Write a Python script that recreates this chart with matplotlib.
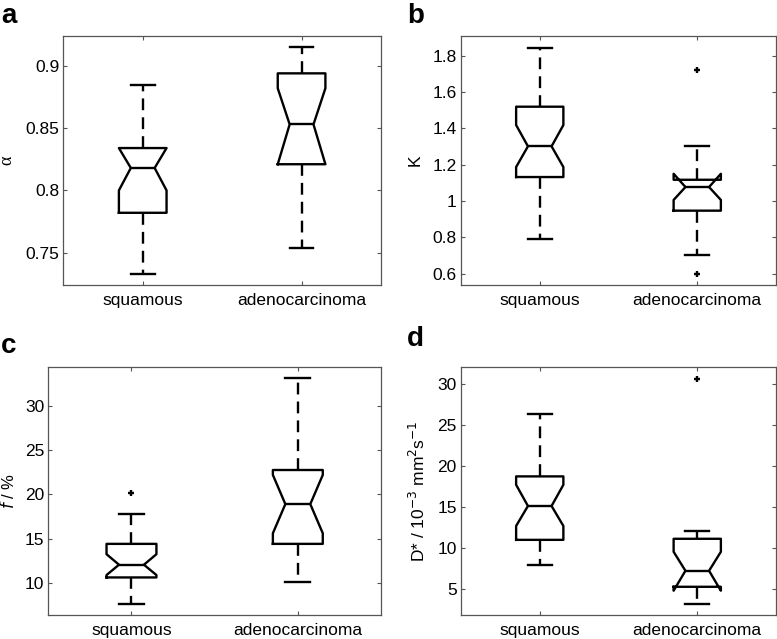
import matplotlib
matplotlib.use("Agg")
import matplotlib.pyplot as plt

plt.rcParams['font.family'] = ['Liberation Sans', 'DejaVu Sans']

groups = ['squamous', 'adenocarcinoma']

# panel a: alpha
alpha_whislo = [0.733, 0.7535]
alpha_q1 = [0.782, 0.821]
alpha_cilo = [0.800, 0.821]
alpha_med = [0.818, 0.853]
alpha_cihi = [0.834, 0.882]
alpha_q3 = [0.834, 0.894]
alpha_whishi = [0.885, 0.915]
alpha_fliers = [[], []]

# panel b: K
K_whislo = [0.791, 0.705]
K_q1 = [1.132, 0.947]
K_cilo = [1.187, 1.006]
K_med = [1.301, 1.077]
K_cihi = [1.418, 1.150]
K_q3 = [1.519, 1.117]
K_whishi = [1.843, 1.305]
K_fliers = [[], [1.719, 0.598]]

# panel c: f (%)
f_whislo = [7.59, 10.08]
f_q1 = [10.6, 14.4]
f_cilo = [10.87, 15.6]
f_med = [12.04, 18.9]
f_cihi = [13.23, 22.2]
f_q3 = [14.4, 22.76]
f_whishi = [17.76, 33.13]
f_fliers = [[20.2], []]

# panel d: D*
D_whislo = [7.86, 3.13]
D_q1 = [10.98, 5.24]
D_cilo = [12.68, 4.76]
D_med = [15.12, 7.2]
D_cihi = [17.71, 9.52]
D_q3 = [18.74, 11.11]
D_whishi = [26.42, 12.09]
D_fliers = [[], [30.69]]


def make_stats(whislo, q1, cilo, med, cihi, q3, whishi, fliers):
    stats = []
    for i in range(len(groups)):
        stats.append(dict(whislo=whislo[i], q1=q1[i], cilo=cilo[i], med=med[i],
                          cihi=cihi[i], q3=q3[i], whishi=whishi[i],
                          fliers=fliers[i], label=groups[i]))
    return stats


# letter, axes box in pixels, stats, ylim, yticks, yticklabels, ylabel, label size, label x, label font, letter pos
panels = [
    ('a', [63.3, 36, 381, 285], make_stats(alpha_whislo, alpha_q1, alpha_cilo, alpha_med,
                                           alpha_cihi, alpha_q3, alpha_whishi, alpha_fliers),
     (0.724, 0.924), [0.75, 0.8, 0.85, 0.9], ['0.75', '0.8', '0.85', '0.9'],
     'α', 13, -0.150, ['Liberation Serif'], (1, 23)),
    ('b', [461, 36, 776, 285], make_stats(K_whislo, K_q1, K_cilo, K_med,
                                          K_cihi, K_q3, K_whishi, K_fliers),
     (0.538, 1.908), [0.6, 0.8, 1.0, 1.2, 1.4, 1.6, 1.8], ['0.6', '0.8', '1', '1.2', '1.4', '1.6', '1.8'],
     'K', 12.5, -0.121, None, (407, 23)),
    ('c', [48.3, 366.7, 381, 615], make_stats(f_whislo, f_q1, f_cilo, f_med,
                                              f_cihi, f_q3, f_whishi, f_fliers),
     (6.35, 34.45), [10, 15, 20, 25, 30], ['10', '15', '20', '25', '30'],
     '$f$ / %', 12, -0.094, None, (1, 353)),
    ('d', [461, 367.3, 776, 615], make_stats(D_whislo, D_q1, D_cilo, D_med,
                                             D_cihi, D_q3, D_whishi, D_fliers),
     (1.79, 32.08), [5, 10, 15, 20, 25, 30], ['5', '10', '15', '20', '25', '30'],
     'D* / 10$^{-3}$ mm$^{2}$s$^{-1}$', 12.5, -0.105, None, (407, 346)),
]

W, H = 777, 639
fig = plt.figure(figsize=(W / 100, H / 100), dpi=100)

box_style = dict(color='black', linewidth=1.7)
whisk_style = dict(color='black', linewidth=1.7, linestyle=(0, (5, 3)))
flier_style = dict(marker='+', markeredgecolor='black', markersize=5, markeredgewidth=1.7, linestyle='none')

for letter, (x0, y0, x1, y1), stats, ylim, yticks, yticklabels, ylabel, ylsize, ylx, ylfont, lpos in panels:
    ax = fig.add_axes([x0 / W, 1 - y1 / H, (x1 - x0) / W, (y1 - y0) / H])
    ax.bxp(stats, positions=[1, 2], widths=0.30, shownotches=True,
           boxprops=box_style, medianprops=box_style, whiskerprops=whisk_style,
           capprops=box_style, flierprops=flier_style)
    ax.set_xlim(0.5, 2.5)
    ax.set_ylim(*ylim)
    ax.set_yticks(yticks)
    ax.set_yticklabels(yticklabels)
    ax.set_xticks([1, 2])
    ax.set_xticklabels(groups)
    ax.tick_params(direction='in', length=3, width=0.8, color='#555555',
                   labelsize=12.5, top=True, right=True, pad=3)
    ax.tick_params(axis='x', pad=6)
    for s in ax.spines.values():
        s.set_color('#555555')
        s.set_linewidth(0.9)
    if ylfont:
        ax.set_ylabel(ylabel, fontsize=ylsize, family=ylfont)
    else:
        ax.set_ylabel(ylabel, fontsize=ylsize)
    ax.yaxis.set_label_coords(ylx, 0.5)
    fig.text(lpos[0] / W, 1 - lpos[1] / H, letter, fontsize=20, fontweight='bold',
             ha='left', va='baseline')

fig.savefig('out.png', dpi=100)
